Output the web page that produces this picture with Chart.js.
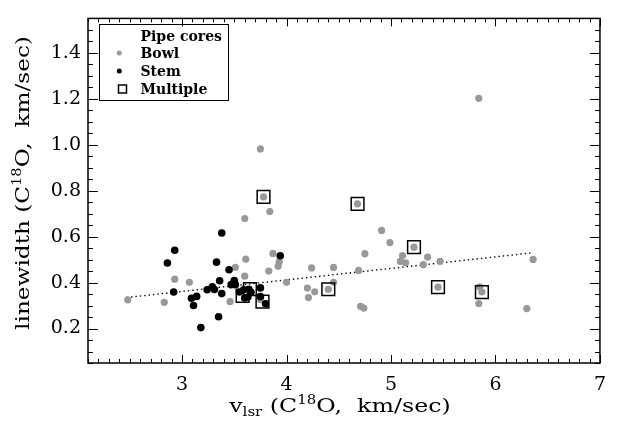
<!DOCTYPE html>
<html>
<head>
<meta charset="utf-8">
<script src="https://cdn.jsdelivr.net/npm/chart.js@4.4.0/dist/chart.umd.min.js"></script>
<style>
  html, body { margin: 0; padding: 0; background: #fff; }
  #wrap { width: 617px; height: 431px; }
</style>
</head>
<body>
<div id="wrap"><canvas id="chart"></canvas></div>
<script>
// ---- data ----
// Bowl cores (grey dots)
const bowlX = [2.48, 2.83, 2.93, 3.07, 3.75, 3.78, 3.84, 3.60, 3.87, 3.93, 3.92, 3.61, 3.51, 3.83,
               4.24, 4.45, 4.75, 4.69, 4.68, 4.91, 4.99, 3.60, 4.00, 4.45, 4.20, 4.27, 4.21, 4.40,
               4.71, 4.74, 3.46, 5.22, 5.11, 5.09, 5.14, 5.35, 5.31, 5.47, 6.36, 5.45, 5.85, 5.87,
               5.84, 6.30, 5.84, 3.75];
const bowlY = [0.325, 0.314, 0.415, 0.401, 0.982, 0.773, 0.709, 0.679, 0.527, 0.490, 0.471, 0.502, 0.466, 0.450,
               0.464, 0.466, 0.526, 0.453, 0.743, 0.627, 0.574, 0.428, 0.401, 0.401, 0.376, 0.360, 0.335, 0.371,
               0.297, 0.289, 0.317, 0.554, 0.518, 0.492, 0.486, 0.511, 0.478, 0.492, 0.501, 0.380, 0.381, 0.359,
               0.309, 0.287, 1.202, 0.326];

// Stem cores (black dots)
const stemX = [2.93, 2.86, 2.92, 3.09, 3.14, 3.11, 3.18, 3.24, 3.29, 3.31, 3.33, 3.38, 3.45, 3.36, 3.38,
               3.35, 3.47, 3.50, 3.51, 3.55, 3.75, 3.75, 3.80, 3.94, 3.59, 3.64, 3.60, 3.63, 3.66];
const stemY = [0.541, 0.485, 0.359, 0.332, 0.340, 0.300, 0.204, 0.369, 0.382, 0.370, 0.489, 0.616, 0.456, 0.408, 0.352,
               0.251, 0.391, 0.409, 0.391, 0.359, 0.377, 0.339, 0.308, 0.517, 0.369, 0.371, 0.333, 0.337, 0.358];

// Multiple cores (open squares)
const multiX = [3.78, 4.68, 5.22, 3.65, 3.58, 3.77, 4.40, 5.45, 5.87];
const multiY = [0.773, 0.743, 0.554, 0.372, 0.342, 0.317, 0.371, 0.380, 0.359];

// dotted fit line end points
const fitX = [2.47, 6.36];
const fitY = [0.335, 0.530];

// axes
const xTicks = [3, 4, 5, 6, 7];
const yTicks = [0.2, 0.4, 0.6, 0.8, 1.0, 1.2, 1.4];
const xRange = [2.1, 7.0];
const yRange = [0.05, 1.55];

const legendLabels = ['Pipe cores', 'Bowl', 'Stem', 'Multiple'];

const GREY = '#999999';
const SERIF = '"DejaVu Serif", serif';

function pts(xs, ys) {
    return xs.map((v, i) => ({ x: v, y: ys[i] }));
}

// draws text pieces (with super/subscripts) centered on cx,cy
function drawRich(ctx, parts, cx, cy, rotate, sx) {
    ctx.save();
    ctx.translate(cx, cy);
    if (rotate) ctx.rotate(-Math.PI / 2);
    ctx.scale(sx, 1);
    let w = 0;
    parts.forEach(p => { ctx.font = p.f; w += ctx.measureText(p.t).width; });
    let x = -w / 2;
    ctx.textBaseline = 'alphabetic';
    ctx.textAlign = 'left';
    parts.forEach(p => {
        ctx.font = p.f;
        ctx.fillText(p.t, x, p.dy || 0);
        x += ctx.measureText(p.t).width;
    });
    ctx.restore();
}

//---- frame, ticks, titles, legend ----
const decor = {
    id: 'decor',
    afterDraw(chart) {
        const ctx = chart.ctx;
        const a = chart.chartArea;
        const sx = chart.scales.x, sy = chart.scales.y;
        ctx.save();
        ctx.strokeStyle = '#000';
        ctx.fillStyle = '#000';

        // box
        ctx.lineWidth = 1.5;
        ctx.strokeRect(a.left, a.top, a.right - a.left, a.bottom - a.top);

        // tick marks, inside on all sides
        ctx.lineWidth = 1;
        ctx.beginPath();
        const nx = Math.round((xRange[1] - xRange[0]) / 0.1);
        for (let i = 0; i <= nx; i++) {
            const v = Math.round((xRange[0] + i * 0.1) * 10) / 10;
            const px = Math.round(sx.getPixelForValue(v)) + 0.5;
            const len = xTicks.includes(v) ? 8 : 4;
            ctx.moveTo(px, a.bottom); ctx.lineTo(px, a.bottom - len);
            ctx.moveTo(px, a.top); ctx.lineTo(px, a.top + len);
        }
        const ny = Math.round((yRange[1] - yRange[0]) / 0.05);
        for (let i = 0; i <= ny; i++) {
            const v = Math.round((yRange[0] + i * 0.05) * 100) / 100;
            const py = Math.round(sy.getPixelForValue(v)) + 0.5;
            const len = yTicks.includes(v) ? 10 : 5;
            ctx.moveTo(a.left, py); ctx.lineTo(a.left + len, py);
            ctx.moveTo(a.right, py); ctx.lineTo(a.right - len, py);
        }
        ctx.stroke();

        // axis titles
        const big = '19px ' + SERIF, small = '12px ' + SERIF;
        drawRich(ctx, [
            { t: 'v', f: big },
            { t: 'lsr', f: small, dy: 4 },
            { t: ' (C', f: big },
            { t: '18', f: small, dy: -8 },
            { t: 'O,  km/sec)', f: big }
        ], 340, 412, false, 1.25);
        drawRich(ctx, [
            { t: 'linewidth (C', f: big },
            { t: '18', f: small, dy: -8 },
            { t: 'O,  km/sec)', f: big }
        ], 29, 183, true, 1.22);

        // legend
        ctx.lineWidth = 1;
        ctx.strokeRect(99.5, 24.5, 129, 76);
        ctx.font = 'bold 14px ' + SERIF;
        ctx.textBaseline = 'middle';
        ctx.textAlign = 'left';
        const rows = [36, 53, 71, 89];
        legendLabels.forEach((t, i) => ctx.fillText(t, 140.5, rows[i] + 1));
        ctx.fillStyle = GREY;
        ctx.beginPath(); ctx.arc(119.3, rows[1], 2.5, 0, Math.PI * 2); ctx.fill();
        ctx.fillStyle = '#000';
        ctx.beginPath(); ctx.arc(119.3, rows[2], 2.5, 0, Math.PI * 2); ctx.fill();
        ctx.lineWidth = 1.5;
        ctx.strokeRect(118.5, rows[3] - 4, 8, 8);
        ctx.restore();
    }
};

const ctx = document.getElementById('chart').getContext('2d');
const chart = new Chart(ctx, {
    type: 'scatter',
    data: {
        datasets: [
            {
                label: 'Multiple',
                data: pts(multiX, multiY),
                pointStyle: 'rect',
                pointRadius: 9,
                backgroundColor: 'rgba(0,0,0,0)',
                borderColor: '#000',
                borderWidth: 1.5,
                order: 0
            },
            {
                label: 'Stem',
                data: pts(stemX, stemY),
                pointRadius: 3.8,
                backgroundColor: '#000',
                borderWidth: 0,
                order: 1
            },
            {
                label: 'Bowl',
                data: pts(bowlX, bowlY),
                pointRadius: 3.6,
                backgroundColor: GREY,
                borderWidth: 0,
                order: 2
            },
            {
                type: 'line',
                label: 'fit',
                data: pts(fitX, fitY),
                borderColor: '#000',
                borderWidth: 1.4,
                borderDash: [1.4, 3],
                pointRadius: 0,
                fill: false,
                order: 3
            }
        ]
    },
    options: {
        responsive: true,
        maintainAspectRatio: false,
        animation: false,
        events: [],
        layout: { padding: { top: 8, right: 8, left: 0, bottom: 0 } },
        plugins: {
            legend: { display: false },
            tooltip: { enabled: false }
        },
        scales: {
            x: {
                type: 'linear',
                min: xRange[0],
                max: xRange[1],
                afterBuildTicks: s => { s.ticks = xTicks.map(v => ({ value: v })); },
                afterFit: s => { s.height = 68; },
                grid: { display: false, drawTicks: false },
                border: { display: false },
                ticks: {
                    color: '#000',
                    padding: 11,
                    maxRotation: 0,
                    font: { family: SERIF, size: 19 },
                    callback: v => String(v)
                }
            },
            y: {
                type: 'linear',
                min: yRange[0],
                max: yRange[1],
                afterBuildTicks: s => { s.ticks = yTicks.map(v => ({ value: v })); },
                afterFit: s => { s.width = 88; },
                grid: { display: false, drawTicks: false },
                border: { display: false },
                ticks: {
                    color: '#000',
                    padding: 7,
                    font: { family: SERIF, size: 19 },
                    callback: v => v.toFixed(1)
                }
            }
        }
    },
    plugins: [decor]
});
</script>
</body>
</html>
